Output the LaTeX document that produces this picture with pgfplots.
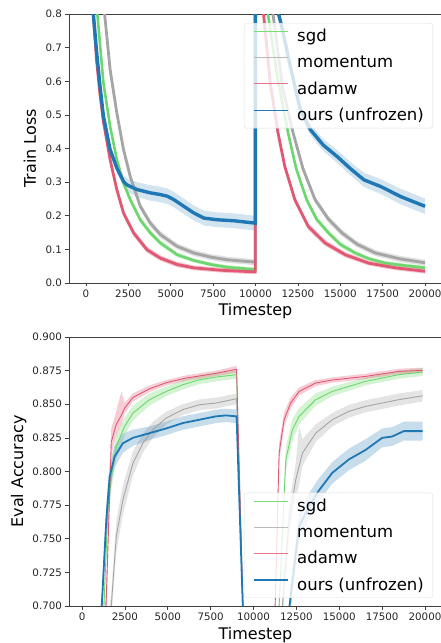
\documentclass[border=0pt]{standalone}
\usepackage{fontspec}
\setmainfont{DejaVu Sans}
\usepackage{pgfplots}
\pgfplotsset{compat=1.18}
\usepackage{pgfplotstable}
\usepgfplotslibrary{fillbetween}

\definecolor{sgdc}{RGB}{110,214,110}
\definecolor{momc}{RGB}{165,165,165}
\definecolor{adamc}{RGB}{224,88,115}
\definecolor{oursc}{RGB}{31,119,180}
\definecolor{legsgd}{RGB}{120,220,120}
\definecolor{legmom}{RGB}{185,185,185}
\definecolor{legadam}{RGB}{232,115,140}

% train loss: x, mean, band low, band high
\pgfplotstableread{
x y lo hi
0 2.0 2.0 2.0
672 0.80 0.79 0.81
1030 0.595 0.585 0.605
1424 0.466 0.456 0.476
1820 0.367 0.357 0.377
2215 0.297 0.287 0.307
2611 0.248 0.238 0.258
3204 0.188 0.179 0.197
3797 0.149 0.141 0.157
4390 0.119 0.111 0.127
5380 0.084 0.077 0.091
6368 0.067 0.061 0.073
7357 0.055 0.049 0.061
8346 0.047 0.041 0.053
9990 0.040 0.034 0.046
10000 2.0 2.0 2.0
10733 0.80 0.79 0.81
11300 0.61 0.60 0.62
11924 0.446 0.436 0.456
12400 0.34 0.330 0.350
13015 0.248 0.238 0.258
13600 0.19 0.181 0.199
14305 0.149 0.141 0.157
15000 0.115 0.107 0.123
15891 0.089 0.082 0.096
16700 0.072 0.066 0.078
17677 0.059 0.053 0.065
18800 0.052 0.046 0.058
20000 0.045 0.039 0.051
}\lossSgd

\pgfplotstableread{
x y lo hi
0 2.0 2.0 2.0
1100 0.80 0.79 0.81
1424 0.635 0.624 0.646
1820 0.506 0.495 0.517
2215 0.397 0.386 0.408
2611 0.317 0.306 0.328
3204 0.228 0.218 0.238
3797 0.178 0.168 0.188
4390 0.144 0.134 0.154
5380 0.109 0.100 0.118
6368 0.089 0.080 0.098
7357 0.077 0.068 0.086
8346 0.069 0.060 0.078
9990 0.062 0.053 0.071
10000 2.0 2.0 2.0
11031 0.80 0.79 0.81
11600 0.58 0.569 0.591
12221 0.446 0.435 0.457
12800 0.34 0.329 0.351
13511 0.248 0.238 0.258
14300 0.19 0.180 0.200
15098 0.149 0.139 0.159
16000 0.115 0.106 0.124
17082 0.089 0.080 0.098
18500 0.072 0.063 0.081
20000 0.060 0.051 0.069
}\lossMom

\pgfplotstableread{
x y lo hi
0 2.0 2.0 2.0
430 0.80 0.79 0.81
630 0.66 0.649 0.671
830 0.56 0.549 0.571
1030 0.48 0.469 0.491
1424 0.367 0.356 0.378
1820 0.278 0.267 0.289
2215 0.208 0.198 0.218
2809 0.149 0.139 0.159
3600 0.099 0.090 0.108
4390 0.074 0.066 0.082
5380 0.055 0.047 0.063
6368 0.045 0.038 0.052
7950 0.038 0.031 0.045
9990 0.033 0.026 0.040
10000 2.0 2.0 2.0
10475 0.80 0.79 0.81
10870 0.595 0.584 0.606
11329 0.446 0.435 0.457
11726 0.347 0.336 0.358
12320 0.248 0.238 0.258
13114 0.168 0.158 0.178
14106 0.119 0.110 0.128
15297 0.084 0.076 0.092
16685 0.059 0.052 0.066
18272 0.045 0.038 0.052
20000 0.035 0.028 0.042
}\lossAdam

\pgfplotstableread{
x y lo hi
0 2.0 2.0 2.0
435 0.80 0.79 0.81
633 0.685 0.675 0.695
830 0.585 0.575 0.595
1030 0.496 0.485 0.507
1424 0.397 0.385 0.409
1820 0.342 0.328 0.356
2215 0.302 0.285 0.319
2413 0.292 0.272 0.312
3006 0.278 0.256 0.300
3797 0.268 0.245 0.291
4390 0.263 0.240 0.286
4800 0.258 0.235 0.281
5183 0.248 0.225 0.271
5775 0.228 0.205 0.251
6368 0.208 0.186 0.230
6962 0.193 0.171 0.215
7753 0.188 0.166 0.210
8742 0.185 0.163 0.207
9990 0.178 0.156 0.200
10000 2.0 2.0 2.0
11360 0.80 0.79 0.81
11560 0.76 0.748 0.772
12053 0.644 0.630 0.658
12645 0.515 0.500 0.530
13236 0.456 0.440 0.472
14000 0.41 0.392 0.428
14817 0.376 0.357 0.395
15600 0.34 0.320 0.360
16390 0.307 0.286 0.328
17380 0.287 0.265 0.309
18560 0.257 0.234 0.280
20000 0.228 0.205 0.251
}\lossOurs

% eval accuracy: x, mean, band low, band high
\pgfplotstableread{
x y lo hi
0 0.55 0.55 0.55
1279 0.700 0.692 0.708
1500 0.770 0.760 0.780
1750 0.800 0.790 0.810
1996 0.8186 0.810 0.827
2481 0.8335 0.827 0.840
2965 0.8434 0.838 0.849
3934 0.8534 0.849 0.858
4903 0.8595 0.856 0.863
5872 0.8645 0.861 0.868
6841 0.8682 0.865 0.8714
7810 0.8702 0.867 0.8734
9012 0.872 0.869 0.875
9400 0.69 0.69 0.69
10000 0.55 0.55 0.55
11200 0.60 0.60 0.60
11492 0.700 0.692 0.708
11880 0.8087 0.800 0.8175
12267 0.831 0.823 0.839
12655 0.841 0.835 0.847
13624 0.8534 0.849 0.858
14593 0.8595 0.856 0.863
16531 0.867 0.864 0.870
18469 0.872 0.869 0.875
19865 0.874 0.871 0.877
}\evalSgd

\pgfplotstableread{
x y lo hi
0 0.55 0.55 0.55
1705 0.700 0.690 0.710
1996 0.7516 0.740 0.763
2384 0.779 0.768 0.790
2965 0.806 0.797 0.815
3547 0.821 0.814 0.828
4128 0.831 0.825 0.837
4903 0.8397 0.835 0.8445
5872 0.846 0.842 0.850
6841 0.8496 0.8456 0.8536
7810 0.8509 0.8469 0.8549
9012 0.8541 0.850 0.858
9400 0.69 0.69 0.69
10000 0.55 0.55 0.55
11300 0.60 0.60 0.60
11686 0.700 0.690 0.710
12074 0.764 0.752 0.776
12461 0.7938 0.781 0.806
12660 0.804 0.790 0.834
12849 0.8136 0.804 0.824
13624 0.8285 0.822 0.835
14593 0.8385 0.8335 0.8435
15562 0.8447 0.840 0.8495
16531 0.8484 0.844 0.853
18469 0.8534 0.849 0.858
19865 0.8563 0.852 0.8605
}\evalMom

\pgfplotstableread{
x y lo hi
0 0.55 0.55 0.55
1400 0.700 0.690 0.710
1705 0.822 0.812 0.832
1996 0.835 0.827 0.845
2300 0.842 0.835 0.8595
2481 0.847 0.843 0.851
2965 0.855 0.852 0.858
3934 0.8615 0.859 0.864
4903 0.866 0.864 0.868
6065 0.8695 0.8675 0.8715
6841 0.871 0.869 0.873
7810 0.873 0.871 0.875
9012 0.876 0.8735 0.8785
9400 0.69 0.69 0.69
10000 0.55 0.55 0.55
11000 0.60 0.60 0.60
11260 0.700 0.694 0.706
11492 0.8136 0.806 0.821
11783 0.8385 0.833 0.844
12170 0.851 0.847 0.855
12655 0.8595 0.8565 0.8625
13624 0.8658 0.8635 0.868
14593 0.868 0.866 0.870
16531 0.8707 0.8687 0.8727
18469 0.8744 0.8724 0.8764
19865 0.8752 0.8732 0.8772
}\evalAdam

\pgfplotstableread{
x y lo hi
0 0.55 0.55 0.55
1150 0.700 0.690 0.710
1415 0.764 0.752 0.776
1609 0.796 0.786 0.806
1900 0.811 0.803 0.819
2384 0.821 0.814 0.828
2965 0.825 0.819 0.831
3934 0.8285 0.8235 0.8335
4903 0.832 0.827 0.837
5872 0.836 0.831 0.841
6841 0.8385 0.8335 0.8435
7810 0.841 0.836 0.846
8392 0.8417 0.8367 0.8467
9012 0.841 0.836 0.846
9400 0.69 0.69 0.69
10000 0.55 0.55 0.55
11700 0.60 0.60 0.60
12100 0.700 0.690 0.712
12655 0.759 0.749 0.769
13237 0.774 0.765 0.784
13818 0.786 0.778 0.795
14593 0.799 0.791 0.807
15562 0.809 0.801 0.817
16531 0.816 0.808 0.824
17500 0.825 0.818 0.832
18082 0.826 0.819 0.833
18760 0.830 0.823 0.837
19865 0.830 0.823 0.837
}\evalOurs

\pgfplotsset{
  keysgd/.style={legend image code/.code={\path (-4pt,4.6pt);
    \draw[draw=legsgd, line width=0.9pt] (0pt,4.6pt) -- (34pt,4.6pt);}},
  keymom/.style={legend image code/.code={\path (-4pt,4.6pt);
    \draw[draw=legmom, line width=1.2pt] (0pt,4.6pt) -- (34pt,4.6pt);}},
  keyadam/.style={legend image code/.code={\path (-4pt,4.6pt);
    \draw[draw=legadam, line width=1.1pt] (0pt,4.6pt) -- (34pt,4.6pt);}},
  keyours/.style={legend image code/.code={\path (-4pt,4.6pt);
    \draw[draw=oursc, line width=1.8pt] (0pt,4.6pt) -- (34pt,4.6pt);}},
  every legend image post/.style={draw=none},
  panel/.style={
    scale only axis, width=373pt, height=269pt,
    axis line style={black!75, line width=0.7pt},
    tick align=outside, tick pos=left, major tick length=3.5pt,
    tick style={black!75, line width=0.7pt},
    xtick={0,2500,5000,7500,10000,12500,15000,17500,20000},
    scaled x ticks=false,
    tick label style={font=\fontsize{10.3}{12}\selectfont, text=black!85},
    /pgf/number format/assume math mode=true,
    /pgf/number format/1000 sep={},
    xticklabel style={/pgf/number format/fixed},
    label style={font=\fontsize{16}{19}\selectfont},
    xlabel={Timestep},
    legend cell align=left,
    legend style={font=\fontsize{16.5}{19}\selectfont, draw=black!13,
      rounded corners=2.5pt, fill=white, fill opacity=0.8, draw opacity=1,
      text opacity=1, inner xsep=6pt, inner ysep=3pt,
      nodes={draw=none, inner sep=3pt}, row sep=6.6pt, column sep=5pt},
  },
}

\begin{document}
\begin{tikzpicture}

\begin{axis}[panel, at={(69pt,360pt)}, anchor=south west,
  xmin=-1000, xmax=21000, ymin=0, ymax=0.8,
  ytick={0,0.1,0.2,0.3,0.4,0.5,0.6,0.7,0.8},
  yticklabel style={/pgf/number format/.cd, fixed, fixed zerofill, precision=1},
  ylabel={Train Loss},
  ylabel style={at={(axis description cs:-0.0885,0.5)}, anchor=base, inner sep=0pt},
  xlabel style={at={(axis description cs:0.5,-0.12)}, anchor=base, inner sep=0pt},
  legend style={at={(1,1)}, anchor=north east, xshift=-9pt, yshift=-9pt},
]
\addlegendimage{keysgd}\addlegendentry{sgd}
\addlegendimage{keymom}\addlegendentry{momentum}
\addlegendimage{keyadam}\addlegendentry{adamw}
\addlegendimage{keyours}\addlegendentry{ours (unfrozen)}

\addplot[name path=sl, draw=none, forget plot] table[x=x,y=lo]{\lossSgd};
\addplot[name path=sh, draw=none, forget plot] table[x=x,y=hi]{\lossSgd};
\addplot[sgdc, fill opacity=0.35, forget plot] fill between[of=sl and sh];
\addplot[sgdc, line width=2.6pt, forget plot] table[x=x,y=y]{\lossSgd};

\addplot[name path=ml, draw=none, forget plot] table[x=x,y=lo]{\lossMom};
\addplot[name path=mh, draw=none, forget plot] table[x=x,y=hi]{\lossMom};
\addplot[momc, fill opacity=0.35, forget plot] fill between[of=ml and mh];
\addplot[momc, line width=2.8pt, forget plot] table[x=x,y=y]{\lossMom};

\addplot[name path=al, draw=none, forget plot] table[x=x,y=lo]{\lossAdam};
\addplot[name path=ah, draw=none, forget plot] table[x=x,y=hi]{\lossAdam};
\addplot[adamc, fill opacity=0.35, forget plot] fill between[of=al and ah];
\addplot[adamc, line width=2.8pt, forget plot] table[x=x,y=y]{\lossAdam};

\addplot[name path=ol, draw=none, forget plot] table[x=x,y=lo]{\lossOurs};
\addplot[name path=oh, draw=none, forget plot] table[x=x,y=hi]{\lossOurs};
\addplot[oursc, fill opacity=0.2, forget plot] fill between[of=ol and oh];
\addplot[oursc, line width=3.4pt, forget plot] table[x=x,y=y]{\lossOurs};
\end{axis}

\begin{axis}[panel, at={(69pt,37pt)}, anchor=south west,
  xmin=-760, xmax=20990, ymin=0.7, ymax=0.9,
  ytick={0.7,0.725,0.75,0.775,0.8,0.825,0.85,0.875,0.9},
  yticklabel style={/pgf/number format/.cd, fixed, fixed zerofill, precision=3},
  ylabel={Eval Accuracy},
  ylabel style={at={(axis description cs:-0.123,0.5)}, anchor=base, inner sep=0pt},
  xlabel style={at={(axis description cs:0.5,-0.126)}, anchor=base, inner sep=0pt},
  legend style={at={(1,0)}, anchor=south east, xshift=-9pt, yshift=8pt},
]
\addlegendimage{keysgd}\addlegendentry{sgd}
\addlegendimage{keymom}\addlegendentry{momentum}
\addlegendimage{keyadam}\addlegendentry{adamw}
\addlegendimage{keyours}\addlegendentry{ours (unfrozen)}

\addplot[name path=esl, draw=none, forget plot] table[x=x,y=lo]{\evalSgd};
\addplot[name path=esh, draw=none, forget plot] table[x=x,y=hi]{\evalSgd};
\addplot[sgdc, fill opacity=0.3, forget plot] fill between[of=esl and esh];
\addplot[sgdc, line width=0.9pt, forget plot] table[x=x,y=y]{\evalSgd};

\addplot[name path=eml, draw=none, forget plot] table[x=x,y=lo]{\evalMom};
\addplot[name path=emh, draw=none, forget plot] table[x=x,y=hi]{\evalMom};
\addplot[momc, fill opacity=0.3, forget plot] fill between[of=eml and emh];
\addplot[momc, line width=0.9pt, forget plot] table[x=x,y=y]{\evalMom};

\addplot[name path=eal, draw=none, forget plot] table[x=x,y=lo]{\evalAdam};
\addplot[name path=eah, draw=none, forget plot] table[x=x,y=hi]{\evalAdam};
\addplot[adamc, fill opacity=0.3, forget plot] fill between[of=eal and eah];
\addplot[adamc, line width=0.9pt, forget plot] table[x=x,y=y]{\evalAdam};

\addplot[name path=eol, draw=none, forget plot] table[x=x,y=lo]{\evalOurs};
\addplot[name path=eoh, draw=none, forget plot] table[x=x,y=hi]{\evalOurs};
\addplot[oursc, fill opacity=0.25, forget plot] fill between[of=eol and eoh];
\addplot[oursc, line width=1.8pt, forget plot] table[x=x,y=y]{\evalOurs};
\end{axis}

\pgfresetboundingbox
\useasboundingbox (0,0) rectangle (441pt,643pt);
\end{tikzpicture}
\end{document}
